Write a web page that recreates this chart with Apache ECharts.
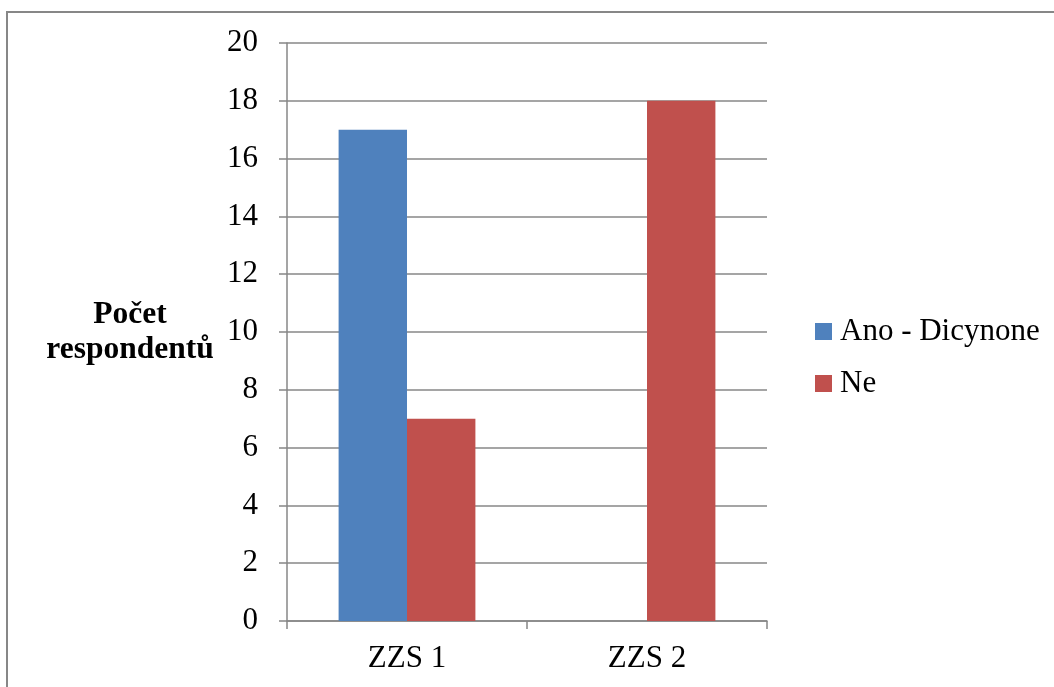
<!DOCTYPE html>
<html>
<head>
<meta charset="utf-8">
<script src="https://cdn.jsdelivr.net/npm/echarts@6/dist/echarts.min.js"></script>
<style>
  html, body { margin: 0; padding: 0; background: #ffffff; }
  #chart { width: 1054px; height: 687px; }
</style>
</head>
<body>
<div id="chart"></div>
<script>
// Categories and series values
const categories = ['ZZS 1', 'ZZS 2'];
const seriesNames = ['Ano - Dicynone', 'Ne'];
const anoValues = [17, 0];
const neValues = [7, 18];
const yTicks = [0, 2, 4, 6, 8, 10, 12, 14, 16, 18, 20];

const font = '"Liberation Serif", "Times New Roman", serif';
const gray = '#878787';

const chart = echarts.init(document.getElementById('chart'));
chart.setOption({
  animation: false,
  backgroundColor: '#ffffff',
  graphic: [{
    type: 'rect',
    shape: { x: 7, y: 12, width: 1200, height: 800 },
    style: { fill: 'none', stroke: gray, lineWidth: 2 },
    silent: true
  }],
  grid: { left: 287, right: 287, top: 43, height: 578, containLabel: false },
  legend: {
    orient: 'vertical',
    left: 810,
    top: 311,
    itemWidth: 17,
    itemHeight: 17,
    itemGap: 21,
    icon: 'rect',
    data: seriesNames,
    textStyle: { fontFamily: font, fontSize: 31, color: '#000', lineHeight: 31, padding: [0, 0, 0, 3] }
  },
  xAxis: {
    type: 'category',
    data: categories,
    axisLine: { lineStyle: { color: gray, width: 1.5 } },
    axisTick: { show: true, length: 8, lineStyle: { color: gray, width: 1.5 } },
    axisLabel: { fontFamily: font, fontSize: 31, color: '#000', margin: 22 }
  },
  yAxis: {
    type: 'value',
    min: yTicks[0],
    max: yTicks[yTicks.length - 1],
    interval: 2,
    name: 'Počet\nrespondentů',
    nameLocation: 'middle',
    nameRotate: 0,
    nameGap: 157,
    nameTextStyle: { fontFamily: font, fontSize: 31.5, fontWeight: 'bold', color: '#000', align: 'center', lineHeight: 35 },
    axisLine: { show: true, lineStyle: { color: gray, width: 1.5 } },
    axisTick: { show: true, length: 8, lineStyle: { color: gray, width: 1.5 } },
    axisLabel: { fontFamily: font, fontSize: 31, color: '#000', margin: 29 },
    splitLine: { show: true, lineStyle: { color: gray, width: 1.5 } }
  },
  series: [
    {
      name: seriesNames[0],
      type: 'bar',
      data: anoValues,
      barGap: '0%',
      barCategoryGap: '43%',
      itemStyle: { color: '#4F81BD' }
    },
    {
      name: seriesNames[1],
      type: 'bar',
      data: neValues,
      barGap: '0%',
      barCategoryGap: '43%',
      itemStyle: { color: '#C0504D' }
    }
  ]
});
</script>
</body>
</html>
